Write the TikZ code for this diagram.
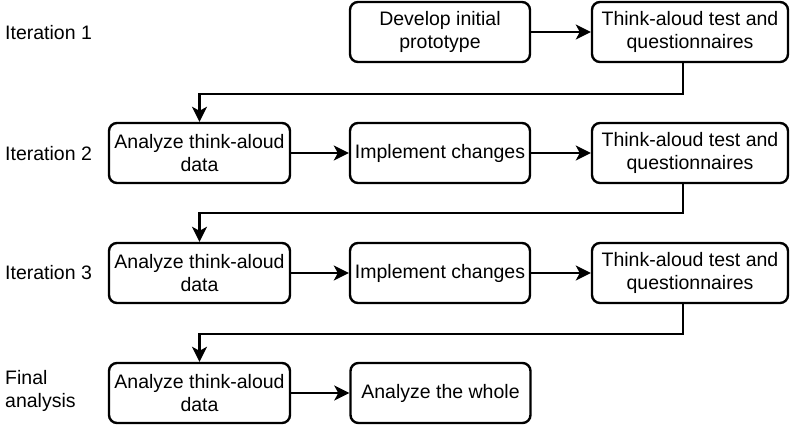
\documentclass[tikz,border=0pt]{standalone}
\usepackage{fontspec}
\setmainfont{Liberation Sans}
\usetikzlibrary{arrows.meta}
\begin{document}
\begin{tikzpicture}[x=1pt,y=-1pt,
  every node/.style={font=\fontsize{19.5}{23}\selectfont},
  box/.style={draw, line width=2.4pt, rounded corners=8pt, align=center,
    minimum height=60pt, inner sep=0pt},
  wa/.style={box, minimum width=181pt},
  wb/.style={box, minimum width=180pt},
  wc/.style={box, minimum width=196pt},
  lbl/.style={anchor=west, align=left, inner sep=0pt},
  conn/.style={line width=2.4pt, -{Stealth[length=15pt,width=15pt,inset=4pt]}}]
\useasboundingbox (0,0) rectangle (800,437);
% labels
\node[lbl] (l1) at (5,33) {Iteration 1};
\node[lbl] (l2) at (5,154) {Iteration 2};
\node[lbl] (l3) at (5,273) {Iteration 3};
\node[lbl] (l4) at (5,391) {Final\\analysis};
% row 1
\node[wb] (d1) at (440,32) {Develop initial\\prototype};
\node[wc] (t1) at (690,32) {Think-aloud test and\\questionnaires};
% row 2
\node[wa] (a2) at (199.5,153) {Analyze think-aloud\\data};
\node[wb] (i2) at (440,153) {Implement changes};
\node[wc] (t2) at (690,153) {Think-aloud test and\\questionnaires};
% row 3
\node[wa] (a3) at (199.5,273) {Analyze think-aloud\\data};
\node[wb] (i3) at (440,273) {Implement changes};
\node[wc] (t3) at (690,273) {Think-aloud test and\\questionnaires};
% row 4
\node[wa] (a4) at (199.5,393) {Analyze think-aloud\\data};
\node[wb] (w4) at (440.5,393) {Analyze the whole};
% connectors
\draw[conn] (d1) -- (t1);
\draw[conn] (a2) -- (i2);
\draw[conn] (i2) -- (t2);
\draw[conn] (a3) -- (i3);
\draw[conn] (i3) -- (t3);
\draw[conn] (a4) -- (w4);
\draw[conn] ([xshift=-7pt]t1.south) -- ++(0,31) -| (a2.north);
\draw[conn] ([xshift=-7pt]t2.south) -- ++(0,29) -| (a3.north);
\draw[conn] ([xshift=-7pt]t3.south) -- ++(0,30) -| (a4.north);
\end{tikzpicture}
\end{document}
